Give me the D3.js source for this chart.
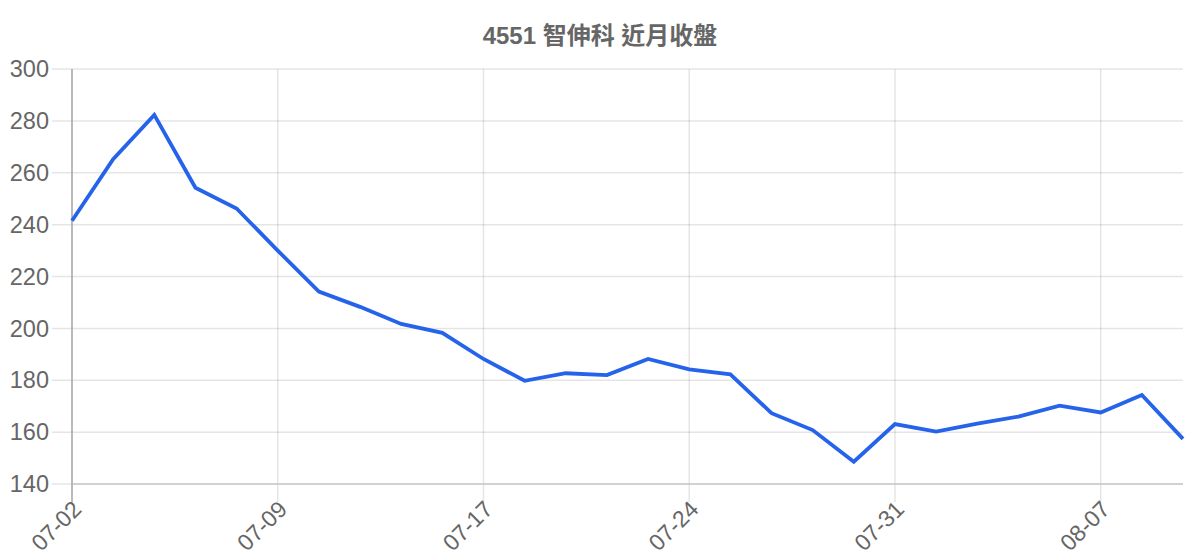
<!DOCTYPE html>
<html>
<head>
<meta charset="utf-8">
<script src="https://cdn.jsdelivr.net/npm/d3@7"></script>
<style>
  body { margin: 0; background: #fff; }
  svg { display: block; font-family: "Liberation Sans", Arial, "Noto Sans CJK TC", sans-serif; }
</style>
</head>
<body>
<svg id="chart" width="1200" height="560"></svg>
<script>
// chart title
var title = "4551 智伸科 近月收盤"

// trading dates (MM-DD)
var dates = ["07-02", "07-03", "07-04", "07-05", "07-08", "07-09", "07-10",
    "07-11", "07-12", "07-15", "07-17", "07-18", "07-19", "07-22",
    "07-23", "07-24", "07-25", "07-26", "07-29", "07-30", "07-31",
    "08-01", "08-02", "08-05", "08-06", "08-07", "08-08", "08-09"]

// closing prices
var closes = [241.5, 265.2, 282.3, 254.2, 246.2, 230, 214.2,
    208.3, 201.7, 198.3, 188.2, 179.8, 182.7, 182,
    188.2, 184.2, 182.3, 167.3, 160.8, 148.6, 163.1,
    160.2, 163.3, 166, 170.2, 167.6, 174.3, 157.4]

// y ticks and labelled x ticks
var yTicks = [140, 160, 180, 200, 220, 240, 260, 280, 300]
var xLabels = ["07-02", "07-09", "07-17", "07-24", "07-31", "08-07"]

var margin = {top: 69, right: 17, bottom: 76, left: 72}
var width = 1200, height = 560

var svg = d3.select("#chart")

var x = d3.scalePoint()
    .domain(dates)
    .range([margin.left, width - margin.right])

var y = d3.scaleLinear()
    .domain([140, 300])
    .range([height - margin.bottom, margin.top])

// horizontal grid lines (with tick stubs to the left)
svg.append("g")
    .selectAll("line")
    .data(yTicks)
    .enter()
    .append("line")
    .attr("x1", margin.left - 20)
    .attr("x2", width - margin.right)
    .attr("y1", function(d) { return y(d) })
    .attr("y2", function(d) { return y(d) })
    .attr("stroke", "rgba(0,0,0,0.1)")
    .attr("stroke-width", 1.5)

// vertical grid lines at labelled dates
svg.append("g")
    .selectAll("line")
    .data(xLabels)
    .enter()
    .append("line")
    .attr("x1", function(d) { return x(d) })
    .attr("x2", function(d) { return x(d) })
    .attr("y1", margin.top)
    .attr("y2", height - margin.bottom + 18)
    .attr("stroke", "rgba(0,0,0,0.1)")
    .attr("stroke-width", 1.5)

// axis borders
svg.append("line")
    .attr("x1", margin.left).attr("x2", width - margin.right)
    .attr("y1", y(140)).attr("y2", y(140))
    .attr("stroke", "#c8c8c8").attr("stroke-width", 1.5)

svg.append("line")
    .attr("x1", margin.left).attr("x2", margin.left)
    .attr("y1", margin.top).attr("y2", height - margin.bottom + 18)
    .attr("stroke", "#aaaaaa").attr("stroke-width", 1.5)

// y tick labels
svg.append("g")
    .selectAll("text")
    .data(yTicks)
    .enter()
    .append("text")
    .attr("x", margin.left - 23)
    .attr("y", function(d) { return y(d) })
    .attr("dy", "0.35em")
    .attr("text-anchor", "end")
    .attr("fill", "#666")
    .style("font-size", "23.5px")
    .text(function(d) { return d })

// x tick labels, rotated
svg.append("g")
    .selectAll("text")
    .data(xLabels)
    .enter()
    .append("text")
    .attr("transform", function(d) {
        return "translate(" + (x(d) + 5) + "," + (height - margin.bottom + 21) + ") rotate(-45)"
    })
    .attr("text-anchor", "end")
    .attr("dy", "0.35em")
    .attr("fill", "#666")
    .style("font-size", "23px")
    .text(function(d) { return d })

// price line
var line = d3.line()
    .x(function(d, i) { return x(dates[i]) })
    .y(function(d) { return y(d) })

svg.append("path")
    .datum(closes)
    .attr("d", line)
    .attr("fill", "none")
    .attr("stroke", "#2563eb")
    .attr("stroke-width", 3.8)
    .attr("stroke-linejoin", "miter")

// title
svg.append("text")
    .attr("x", 600)
    .attr("y", 44)
    .attr("text-anchor", "middle")
    .attr("fill", "#666")
    .style("font-size", "24px")
    .style("font-weight", "bold")
    .text(title)
</script>
</body>
</html>
